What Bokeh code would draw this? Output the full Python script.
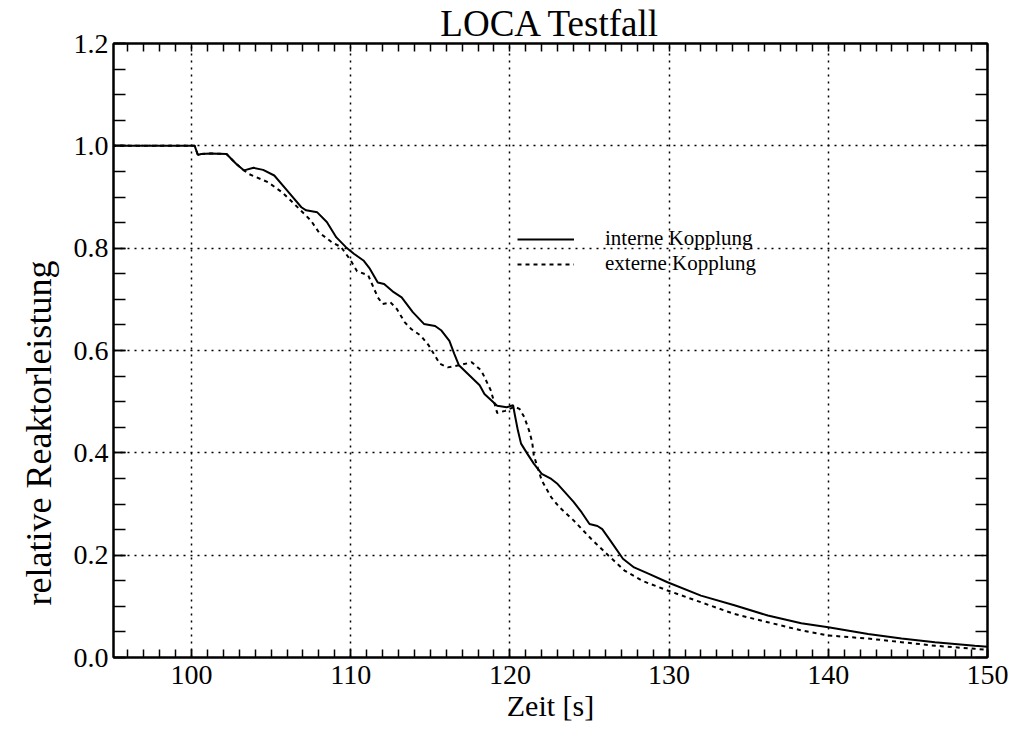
from bokeh.plotting import figure
from bokeh.models import Range1d, LinearAxis, FixedTicker, Title, Legend, LegendItem, CustomJSTickFormatter
from bokeh.embed import file_html
from bokeh.resources import INLINE

# ---- data ----
t_int = [95.0, 100.2, 100.4, 100.6, 101.2, 102.2, 102.8, 103.3, 103.9, 104.5, 105.2, 106.0,
         106.9, 107.2, 107.9, 108.5, 109.1, 109.7, 110.2, 110.8, 111.2, 111.7, 112.1, 112.7,
         113.2, 113.9, 114.6, 115.3, 115.7, 116.2, 116.5, 116.8, 117.4, 118.1, 118.4, 119.2,
         119.8, 120.2, 120.3, 120.5, 120.7, 121.1, 121.5, 122.0, 122.6, 123.0, 124.0, 124.5,
         125.0, 125.5, 125.8, 126.3, 127.1, 127.8, 128.7, 129.9, 132.0, 134.1, 136.2, 138.3,
         140.0, 142.5, 144.6, 146.7, 149.2, 150.0]
p_int = [1.000, 1.000, 0.982, 0.984, 0.985, 0.984, 0.965, 0.952, 0.957, 0.953, 0.942, 0.913,
         0.880, 0.874, 0.870, 0.851, 0.821, 0.802, 0.789, 0.776, 0.760, 0.733, 0.730, 0.714,
         0.704, 0.675, 0.652, 0.648, 0.639, 0.619, 0.594, 0.571, 0.553, 0.532, 0.515, 0.492,
         0.489, 0.493, 0.476, 0.444, 0.418, 0.398, 0.379, 0.359, 0.349, 0.339, 0.304, 0.284,
         0.261, 0.257, 0.251, 0.229, 0.193, 0.176, 0.164, 0.147, 0.121, 0.102, 0.082, 0.067,
         0.059, 0.046, 0.037, 0.030, 0.023, 0.021]

t_ext = [95.0, 100.2, 100.4, 100.6, 101.2, 102.2, 102.8, 103.3, 103.6, 104.8, 105.7, 106.5,
         107.5, 108.0, 108.8, 109.4, 110.0, 110.4, 111.1, 111.7, 112.0, 112.5, 112.9, 113.4,
         113.8, 114.4, 114.9, 115.6, 116.1, 116.8, 117.6, 118.2, 118.8, 119.2, 119.7, 120.3,
         120.6, 120.9, 121.2, 121.4, 121.5, 122.0, 122.6, 123.1, 124.0, 125.1, 126.2, 127.2,
         128.3, 129.9, 132.0, 134.1, 136.2, 138.3, 140.0, 142.5, 144.6, 146.7, 149.2, 150.0]
p_ext = [1.000, 1.000, 0.982, 0.984, 0.985, 0.984, 0.965, 0.952, 0.945, 0.929, 0.909, 0.885,
         0.854, 0.831, 0.812, 0.802, 0.776, 0.755, 0.747, 0.704, 0.691, 0.694, 0.681, 0.655,
         0.642, 0.629, 0.610, 0.574, 0.567, 0.571, 0.577, 0.561, 0.522, 0.478, 0.482, 0.490,
         0.486, 0.470, 0.444, 0.421, 0.395, 0.346, 0.313, 0.294, 0.268, 0.232, 0.199, 0.170,
         0.150, 0.131, 0.108, 0.085, 0.069, 0.053, 0.043, 0.037, 0.030, 0.023, 0.017, 0.015]

series_labels = ["interne Kopplung", "externe Kopplung"]
x_major = [100, 110, 120, 130, 140, 150]
x_minor = list(range(95, 151))
y_major = [0.0, 0.2, 0.4, 0.6, 0.8, 1.0, 1.2]
y_minor = [round(0.05 * k, 2) for k in range(0, 25)]

SERIF = "Liberation Serif"

p = figure(width=1018, height=734, output_backend="svg", toolbar_location=None,
           x_range=Range1d(95.1, 150.0), y_range=Range1d(0.0, 1.2),
           min_border_left=113, min_border_right=31, min_border_top=43, min_border_bottom=77,
           background_fill_color="white", border_fill_color="white")

p.outline_line_color = "black"
p.outline_line_width = 2

# title
p.title.text = "LOCA Testfall"
p.title.text_font = SERIF
p.title.text_font_style = "normal"
p.title.text_font_size = "37px"
p.title.align = "center"
p.title.text_color = "black"
p.title.standoff = 0

# main axes
xa = p.xaxis[0]
ya = p.yaxis[0]
xa.ticker = FixedTicker(ticks=x_major, minor_ticks=x_minor)
ya.ticker = FixedTicker(ticks=y_major, minor_ticks=y_minor)
ya.formatter = CustomJSTickFormatter(code="return tick.toFixed(1);")
xa.axis_label = "Zeit [s]"

for ax in (xa, ya):
    ax.axis_line_color = "black"
    ax.axis_line_width = 2
    ax.major_tick_line_color = "black"
    ax.minor_tick_line_color = "black"
    ax.major_tick_line_width = 1.5
    ax.minor_tick_line_width = 1.5
    ax.major_tick_out = 0
    ax.minor_tick_out = 0
    ax.major_label_text_font = SERIF
    ax.major_label_text_font_size = "28px"
    ax.major_label_text_color = "black"
    ax.axis_label_text_font = SERIF
    ax.axis_label_text_font_size = "30px"
    ax.axis_label_text_font_style = "normal"
    ax.axis_label_text_color = "black"

xa.major_tick_in = 8
xa.minor_tick_in = 8
xa.major_label_standoff = 8
xa.axis_label_standoff = 2
ya.major_tick_in = 12
ya.minor_tick_in = 12
ya.major_label_standoff = 5

# top and right axes: ticks only (no major ticks -> no labels)
top = LinearAxis(ticker=FixedTicker(ticks=[], minor_ticks=x_minor),
                 major_label_standoff=0,
                 major_tick_in=8, minor_tick_in=8, major_tick_out=0, minor_tick_out=0,
                 axis_line_width=2, major_tick_line_width=1.5, minor_tick_line_width=1.5)
right = LinearAxis(ticker=FixedTicker(ticks=[], minor_ticks=y_minor),
                   major_label_standoff=0,
                   major_tick_in=12, minor_tick_in=12, major_tick_out=0, minor_tick_out=0,
                   axis_line_width=2, major_tick_line_width=1.5, minor_tick_line_width=1.5)
p.add_layout(top, "above")
p.add_layout(right, "right")

# y label as left title, shifted down like in the reference
ylab = Title(text="relative Reaktorleistung", align="left", offset=52,
             text_font=SERIF, text_font_size="36px", text_font_style="normal",
             text_color="black", standoff=24)
p.add_layout(ylab, "left")

# grid
p.xgrid.ticker = FixedTicker(ticks=x_major)
p.ygrid.ticker = FixedTicker(ticks=y_major)
for g in (p.xgrid, p.ygrid):
    g.grid_line_color = "black"
    g.grid_line_dash = "2 5"
    g.grid_line_width = 1.5

# data lines
r1 = p.line(t_int, p_int, line_color="black", line_width=2)
r2 = p.line(t_ext, p_ext, line_color="black", line_width=2, line_dash="4 4")

legend = Legend(items=[LegendItem(label=series_labels[0], renderers=[r1]),
                       LegendItem(label=series_labels[1], renderers=[r2])],
                location=(404, 381), padding=0, margin=0, spacing=0,
                glyph_width=57, glyph_height=20, label_height=20, label_standoff=31,
                label_text_font=SERIF, label_text_font_size="21px", label_text_color="black",
                border_line_color=None, background_fill_alpha=0)
p.add_layout(legend)

open("out.html", "w").write(file_html(p, INLINE))
